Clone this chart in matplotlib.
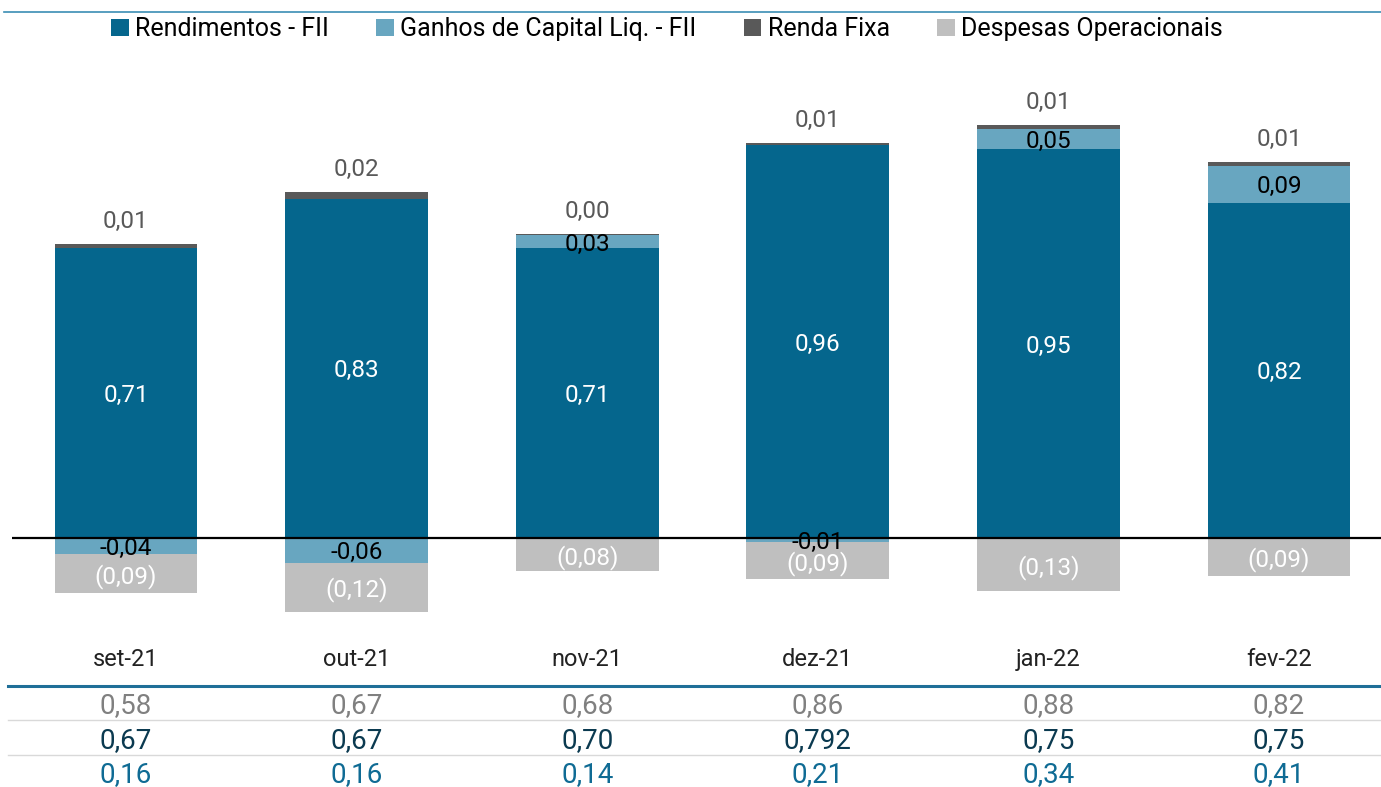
import matplotlib
matplotlib.use('Agg')
import matplotlib.pyplot as plt
import matplotlib.transforms as mtransforms
import numpy as np

plt.rcParams['font.family'] = ['Roboto', 'DejaVu Sans']

meses = ['set-21', 'out-21', 'nov-21', 'dez-21', 'jan-22', 'fev-22']
rendimentos = [0.71, 0.83, 0.71, 0.96, 0.95, 0.82]
ganhos = [-0.04, -0.06, 0.03, -0.01, 0.05, 0.09]
renda_fixa = [0.01, 0.016, 0.004, 0.006, 0.01, 0.01]
despesas = [-0.094, -0.12, -0.08, -0.09, -0.13, -0.094]

linha1 = ['0,58', '0,67', '0,68', '0,86', '0,88', '0,82']
linha2 = ['0,67', '0,67', '0,70', '0,792', '0,75', '0,75']
linha3 = ['0,16', '0,16', '0,14', '0,21', '0,34', '0,41']

c_rend = '#05668d'
c_ganho = '#68a6c0'
c_rf = '#595959'
c_desp = '#bfbfbf'


def fmt(v):
    return f'{abs(v):.2f}'.replace('.', ',')


W, H = 1381, 787
fig = plt.figure(figsize=(W / 100, H / 100), dpi=100)
ax = fig.add_axes([12 / W, 1 - 630 / H, 1 - 12 / W, 570 / H])

x = np.arange(len(meses))
bw = 0.62
rend = np.array(rendimentos)
gan = np.array(ganhos)
rf = np.array(renda_fixa)
desp = np.array(despesas)

gan_pos = np.where(gan > 0, gan, 0)
gan_neg = np.where(gan < 0, gan, 0)

ax.bar(x, rend, bw, color=c_rend, label='Rendimentos - FII')
ax.bar(x, gan, bw, bottom=np.where(gan > 0, rend, 0), color=c_ganho,
       label='Ganhos de Capital Liq. - FII')
ax.bar(x, rf, bw, bottom=rend + gan_pos, color=c_rf, label='Renda Fixa')
ax.bar(x, desp, bw, bottom=gan_neg, color=c_desp, label='Despesas Operacionais')

ax.axhline(0, color='black', lw=1.6)

fs = 17.5
va = 'center_baseline'
for i in range(len(meses)):
    ax.text(x[i], rend[i] / 2, fmt(rend[i]), ha='center', va=va,
            color='white', fontsize=fs)
    if gan[i] > 0:
        yg = rend[i] + gan[i] / 2
        txt = fmt(gan[i])
    else:
        yg = gan[i] / 2
        txt = '-' + fmt(gan[i])
    ax.text(x[i], yg, txt, ha='center', va=va, color='black', fontsize=fs)
    top = rend[i] + gan_pos[i] + rf[i]
    ax.annotate(fmt(rf[i]), (x[i], top), xytext=(0, 18), textcoords='offset points',
                ha='center', va=va, color=c_rf, fontsize=fs)
    ax.text(x[i], gan_neg[i] + desp[i] / 2, '(' + fmt(desp[i]) + ')',
            ha='center', va=va, color='white', fontsize=fs)

ax.set_xlim(-(126 - 12) / 230.6, (W - 126) / 230.6)
ax.set_ylim(-(630 - 538) / 409, (538 - 60) / 409)
ax.axis('off')

# category labels and table below the chart
tr = mtransforms.blended_transform_factory(ax.transData, fig.transFigure)
for i, m in enumerate(meses):
    fig.text(x[i], 1 - 657 / H, m, transform=tr, ha='center', va=va,
             fontsize=17, color='#222222')
    fig.text(x[i], 1 - 703 / H, linha1[i], transform=tr, ha='center', va=va,
             fontsize=20, color='#808080')
    fig.text(x[i], 1 - 738 / H, linha2[i], transform=tr, ha='center', va=va,
             fontsize=20, color='#0b3a50')
    fig.text(x[i], 1 - 772 / H, linha3[i], transform=tr, ha='center', va=va,
             fontsize=20, color='#0f6b94')

fig.add_artist(plt.Line2D([8 / W, 1], [1 - 686 / H] * 2, color='#1f6f98', lw=2.2))
for yy in (720, 755):
    fig.add_artist(plt.Line2D([8 / W, 1], [1 - yy / H] * 2, color='#d9d9d9', lw=1))
fig.add_artist(plt.Line2D([4 / W, 1], [1 - 12 / H] * 2, color='#3b8db4', lw=1.2))

fig.legend(loc='center', bbox_to_anchor=(667 / W, 1 - 29 / H), ncol=4,
           frameon=False, fontsize=18, handlelength=0.7, handleheight=0.7,
           handletextpad=0.25, columnspacing=1.9, borderaxespad=0)

fig.savefig('out.png', dpi=100)
